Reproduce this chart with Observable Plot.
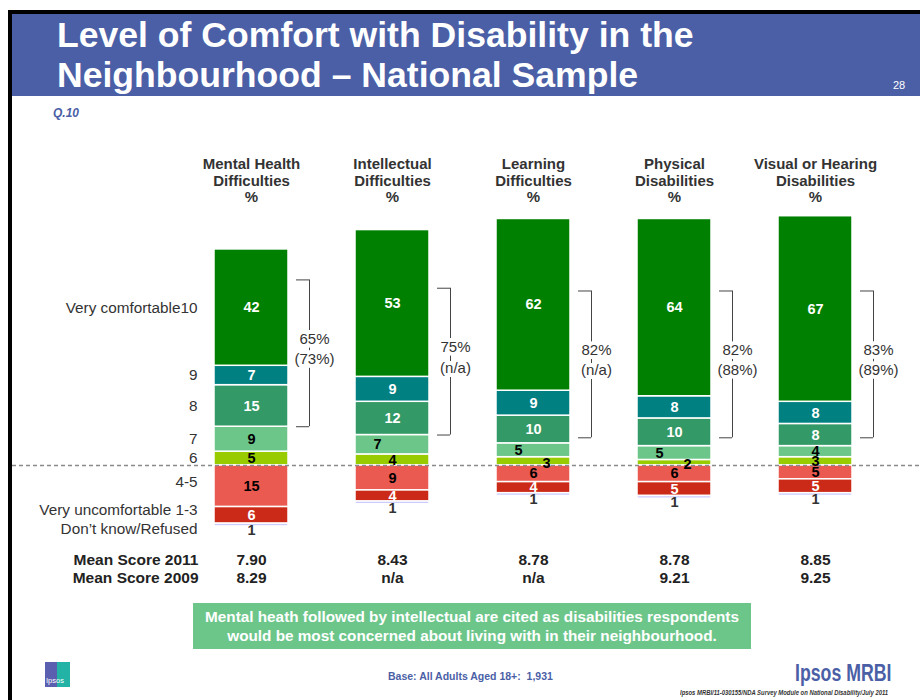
<!DOCTYPE html>
<html>
<head>
<meta charset="utf-8">
<script src="https://cdn.jsdelivr.net/npm/d3@7"></script>
<script src="https://cdn.jsdelivr.net/npm/@observablehq/plot@0.6"></script>
<style>
  body { margin: 0; background: #fff; font-family: "Liberation Sans", Arial, sans-serif; }
  #page { position: relative; width: 920px; height: 700px; overflow: hidden; background: #fff; }
  #borderTop { position: absolute; left: 8px; top: 10px; width: 912px; height: 4px; background: #000; }
  #borderLeft { position: absolute; left: 8px; top: 10px; width: 4px; height: 690px; background: #000; }
  #header { position: absolute; left: 12px; top: 14px; width: 908px; height: 82px; background: #4b5fa6; }
  #title { position: absolute; left: 57px; top: 14.5px; margin: 0; color: #fff; font-weight: bold;
           font-size: 35.6px; line-height: 40px; white-space: nowrap; }
  #pageNum { position: absolute; left: 893px; top: 79px; color: #fff; font-size: 11px; }
  #q { position: absolute; left: 53px; top: 106px; color: #4b5fa6; font-weight: bold; font-style: italic; font-size: 12px; }
  #callout { position: absolute; left: 193px; top: 603px; width: 558px; height: 46px; background: #6cc68a;
             color: #fff; font-weight: bold; font-size: 15.3px; line-height: 19px; text-align: center;
             display: flex; align-items: center; justify-content: center; white-space: nowrap; }
  #logo { position: absolute; left: 45px; top: 662px; width: 25px; height: 25px;
          background: linear-gradient(90deg, #5b5fb0 0 50%, #22b3a6 50% 100%); }
  #logo span { position: absolute; left: 1px; bottom: 2px; color: #fff; font-size: 7.5px; }
  #base { position: absolute; left: 388px; top: 670px; color: #4b5fa6; font-weight: bold; font-size: 10.5px;
          white-space: nowrap; }
  #brand { position: absolute; left: 795px; top: 660px; color: #4b5fa6; font-weight: bold; font-size: 23px;
           transform-origin: left top; transform: scaleX(0.77); white-space: nowrap; }
  #ref { position: absolute; left: 680px; top: 689px; color: #333; font-weight: bold; font-style: italic;
         font-size: 7px; transform-origin: left top; transform: scaleX(0.84); white-space: nowrap; }
  #chart { position: absolute; left: 0; top: 145px; }
</style>
</head>
<body>
<div id="page">
  <div id="borderTop"></div>
  <div id="borderLeft"></div>
  <div id="header"></div>
  <div id="title">Level of Comfort with Disability in the<br>Neighbourhood – National Sample</div>
  <div id="pageNum">28</div>
  <div id="q">Q.10</div>
  <div id="chart"></div>
  <div id="callout"><div>Mental heath followed by intellectual are cited as disabilities respondents<br>would be most concerned about living with in their neighbourhood.</div></div>
  <div id="logo"><span>Ipsos</span></div>
  <div id="base">Base: All Adults Aged 18+:&nbsp; 1,931</div>
  <div id="brand">Ipsos MRBI</div>
  <div id="ref">Ipsos MRBI/11-030155/NDA Survey Module on National Disability/July 2011</div>
</div>
<script>
// ---- data ----
const categories = ["Mental Health Difficulties", "Intellectual Difficulties", "Learning Difficulties", "Physical Disabilities", "Visual or Hearing Disabilities"];
const headerLabels = ["Mental Health\nDifficulties\n%", "Intellectual\nDifficulties\n%", "Learning\nDifficulties\n%", "Physical\nDisabilities\n%", "Visual or Hearing\nDisabilities\n%"];

// stacking order: positive levels from the baseline upward, then negative levels downward
const levels = ["6", "7", "8", "9", "10", "4-5", "1-3", "DK"];
const levelRowLabels = ["6", "7", "8", "9", "Very comfortable10", "4-5", "Very uncomfortable 1-3", "Don’t know/Refused"];
const levelColors = ["#99cc00", "#6cc68a", "#339966", "#008080", "#008000", "#ea5a50", "#cc2a18", "#ccccff"];
const negativeLevels = ["4-5", "1-3", "DK"];
const whiteTextLevels = ["8", "9", "10", "1-3"];

const score10 = [42, 53, 62, 64, 67];
const score9 = [7, 9, 9, 8, 8];
const score8 = [15, 12, 10, 10, 8];
const score7 = [9, 7, 5, 5, 4];
const score6 = [5, 4, 3, 2, 3];
const score4to5 = [15, 9, 6, 6, 5];
const score1to3 = [6, 4, 4, 5, 5];
const dontKnow = [1, 1, 1, 1, 1];

const top3Box2011 = ["65%", "75%", "82%", "82%", "83%"];
const top3Box2009 = ["(73%)", "(n/a)", "(n/a)", "(88%)", "(89%)"];
const meanScore2011 = ["7.90", "8.43", "8.78", "8.78", "8.85"];
const meanScore2009 = ["8.29", "n/a", "n/a", "9.21", "9.25"];

// ---- build table ----
const seriesByLevel = {"6": score6, "7": score7, "8": score8, "9": score9, "10": score10, "4-5": score4to5, "1-3": score1to3, "DK": dontKnow};
const rows = [];
levels.forEach((lv, li) => {
  const sign = negativeLevels.includes(lv) ? -1 : 1;
  categories.forEach((c, ci) => {
    rows.push({cat: c, level: lv, value: sign * seriesByLevel[lv][ci], rowLabel: levelRowLabels[li]});
  });
});

const brackets = categories.map((c, i) => {
  const lo = Math.max(score6[i] + score7[i], 10);
  return {cat: c, lo, hi: lo + 53, label: top3Box2011[i] + "\n" + top3Box2009[i]};
});

// label nudges for crowded thin segments (presentation only)
const nudgeLeft = new Set([categories[1] + "|7", categories[2] + "|7", categories[3] + "|7"]);
const nudgeRight = new Set([categories[2] + "|6", categories[3] + "|6"]);
const key = d => d.cat + "|" + d.level;
const isBlackLabel = d => d.level !== "DK" && !whiteTextLevels.includes(d.level);

const font = {fontFamily: "Liberation Sans, Arial, sans-serif"};
const textBase = {fontSize: 14.5, ...font};
const pxPerUnit = 2.77, baseline = 320;

const rowLabelMark = (levelFilter, dy) => Plot.text(rows, Plot.stackY({x: "cat", y: "value",
  text: d => (d.cat === categories[0] && levelFilter(d.level)) ? d.rowLabel : "",
  textAnchor: "end", dx: -54, dy, fill: "#333", ...font, fontSize: 15.3}));

const chart = Plot.plot({
  width: 920,
  height: 450,
  marginLeft: 0, marginRight: 0, marginTop: 0, marginBottom: 0,
  style: {fontFamily: "Liberation Sans, Arial, sans-serif", background: "transparent"},
  x: {type: "band", domain: categories, range: [179.25, 886.75], paddingInner: 0.477, paddingOuter: 0.2385, axis: null},
  y: {domain: [-40, 100], range: [baseline + 40 * pxPerUnit, baseline - 100 * pxPerUnit], axis: null},
  color: {type: "ordinal", domain: levels, range: levelColors},
  marks: [
    Plot.barY(rows, Plot.stackY({x: "cat", y: "value", fill: "level", stroke: "white", strokeWidth: 1.5})),
    Plot.ruleY([0], {stroke: "#8a8a8a", strokeWidth: 1.5, strokeDasharray: "4,3", insetLeft: 12}),
    // segment labels
    Plot.text(rows, Plot.stackY({x: "cat", y: "value",
      text: d => (d.level !== "DK" && whiteTextLevels.includes(d.level)) ? String(Math.abs(d.value)) : "",
      fill: "white", fontWeight: "bold", ...textBase})),
    Plot.text(rows, Plot.stackY({x: "cat", y: "value",
      text: d => (isBlackLabel(d) && !nudgeLeft.has(key(d)) && !nudgeRight.has(key(d))) ? String(Math.abs(d.value)) : "",
      fill: "black", fontWeight: "bold", ...textBase})),
    Plot.text(rows, Plot.stackY({x: "cat", y: "value",
      text: d => nudgeLeft.has(key(d)) ? String(Math.abs(d.value)) : "",
      dx: -15, fill: "black", fontWeight: "bold", ...textBase})),
    Plot.text(rows, Plot.stackY({x: "cat", y: "value",
      text: d => nudgeRight.has(key(d)) ? String(Math.abs(d.value)) : "",
      dx: 13, dy: 2, fill: "black", fontWeight: "bold", ...textBase})),
    // don't know labels under bars
    Plot.text(rows, Plot.stackY2({x: "cat", y: "value",
      text: d => d.level === "DK" ? String(Math.abs(d.value)) : "",
      fill: "#333", fontWeight: "bold", lineAnchor: "top", dy: -2, ...textBase})),
    // row labels beside the first bar
    rowLabelMark(lv => !negativeLevels.includes(lv), 0),
    rowLabelMark(lv => lv === "4-5", -4),
    rowLabelMark(lv => lv === "1-3", -5),
    rowLabelMark(lv => lv === "DK", 4),
    // brackets
    Plot.ruleX(brackets, {x: "cat", y1: "lo", y2: "hi", dx: 58, stroke: "#444", strokeWidth: 1}),
    Plot.tickY(brackets, {x: "cat", y: "lo", dx: 58, insetLeft: 24, insetRight: 37, stroke: "#444", strokeWidth: 1}),
    Plot.tickY(brackets, {x: "cat", y: "hi", dx: 58, insetLeft: 24, insetRight: 37, stroke: "#444", strokeWidth: 1}),
    Plot.text(brackets, {x: "cat", y: d => (d.lo + d.hi) / 2, text: "label", dx: 63, dy: -6, lineHeight: 1.38,
      fill: "#333", stroke: "white", strokeWidth: 8, paintOrder: "stroke", ...textBase, fontSize: 15}),
    // column headers
    Plot.text(categories, {x: d => d, text: (d, i) => headerLabels[i], frameAnchor: "top", lineAnchor: "top",
      dy: 12, lineHeight: 1.1, fontWeight: "bold", fill: "#333", ...textBase, fontSize: 15}),
    // mean scores
    Plot.text(categories, {x: d => d, text: (d, i) => meanScore2011[i], frameAnchor: "bottom", dy: -30.5,
      fontWeight: "bold", fill: "#222", ...textBase, fontSize: 15.5}),
    Plot.text(categories, {x: d => d, text: (d, i) => meanScore2009[i], frameAnchor: "bottom", dy: -12.5,
      fontWeight: "bold", fill: "#222", ...textBase, fontSize: 15.5}),
    Plot.text(["Mean Score 2011"], {x: () => categories[0], text: d => d, frameAnchor: "bottom", dy: -30.5,
      dx: -53, textAnchor: "end", fontWeight: "bold", fill: "#222", ...textBase, fontSize: 15.5}),
    Plot.text(["Mean Score 2009"], {x: () => categories[0], text: d => d, frameAnchor: "bottom", dy: -12.5,
      dx: -53, textAnchor: "end", fontWeight: "bold", fill: "#222", ...textBase, fontSize: 15.5})
  ]
});
document.getElementById("chart").appendChild(chart);
</script>
</body>
</html>
